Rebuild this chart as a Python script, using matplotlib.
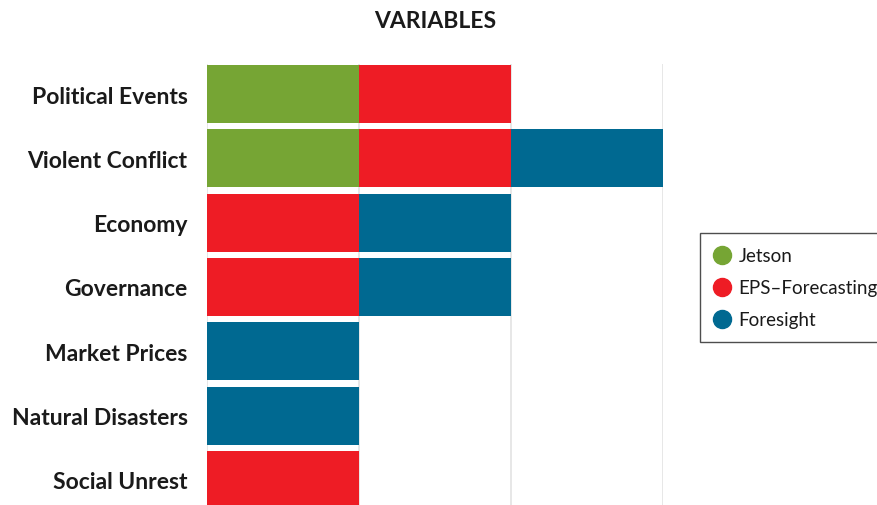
import matplotlib
matplotlib.use("Agg")
import matplotlib.pyplot as plt
from matplotlib.lines import Line2D

categories = ["Political Events", "Violent Conflict", "Economy", "Governance",
              "Market Prices", "Natural Disasters", "Social Unrest"]
series_names = ["Jetson", "EPS\u2013Forecasting", "Foresight"]
jetson = [1, 1, 0, 0, 0, 0, 0]
eps = [1, 1, 1, 1, 0, 0, 1]
foresight = [0, 1, 1, 1, 1, 1, 0]
colors = ["#76A534", "#EE1C25", "#006991"]

plt.rcParams['font.family'] = ['Lato', 'DejaVu Sans']

fig = plt.figure(figsize=(8.78, 5.06), dpi=100)
ax = fig.add_axes([207/878, 0, (663-207)/878, (506-64.8)/506])

y = list(range(len(categories)))
left = [0]*len(categories)
for vals, c in zip([jetson, eps, foresight], colors):
    ax.barh(y, vals, left=left, height=0.9, color=c, zorder=3)
    left = [l + v for l, v in zip(left, vals)]

ax.set_xlim(0, 3)
ax.set_ylim(6.39, -0.47)
ax.set_xticks([0, 1, 2, 3])
ax.set_xticklabels([])
ax.tick_params(axis='x', length=0)
ax.tick_params(axis='y', length=0, pad=14)
ax.set_yticks(y)
ax.set_yticklabels(categories, fontsize=16.5, fontweight='bold', color='#1a1a1a')
ax.grid(axis='x', color='#e3e3e3', linewidth=1.2, zorder=0)
for s in ax.spines.values():
    s.set_visible(False)

fig.text(435/878, 1 - 22/506, "VARIABLES", ha='center', va='center',
         fontsize=16.5, fontweight='bold', color='#1a1a1a')

handles = [Line2D([0], [0], marker='o', linestyle='none', markersize=13,
                  markerfacecolor=c, markeredgecolor=c) for c in colors]
leg = fig.legend(handles, series_names, loc='upper left',
                 bbox_to_anchor=(700/878, 1 - 234/506), fontsize=13.5,
                 frameon=True, fancybox=False, handletextpad=0.4,
                 borderpad=0.75, labelspacing=0.8, handlelength=0.9,
                 borderaxespad=0)
leg.get_frame().set_edgecolor('#222222')
leg.get_frame().set_linewidth(1.0)
for t in leg.get_texts():
    t.set_color('#1a1a1a')

fig.savefig("out.png", dpi=100)
